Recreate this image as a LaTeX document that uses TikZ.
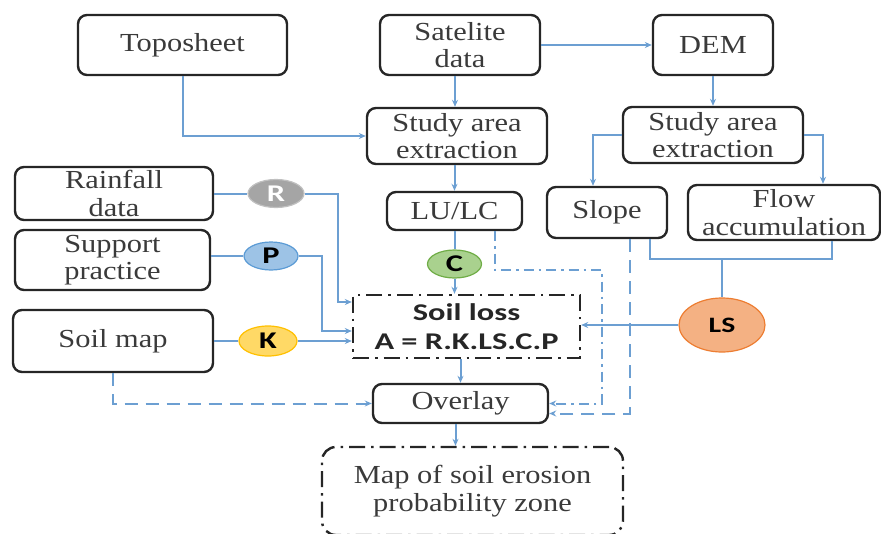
\documentclass[tikz,border=0pt]{standalone}
\usepackage{fontspec}
\setmainfont{Liberation Serif}[FakeStretch=1.17]
\newfontfamily\sfb{Carlito}[FakeStretch=1.35]
\usetikzlibrary{arrows.meta,shapes.geometric}
\definecolor{ln}{HTML}{6C9FD2}
\definecolor{tx}{HTML}{3A3A3A}
\definecolor{rfill}{HTML}{A5A5A5}
\definecolor{pfill}{HTML}{9DC3E6}
\definecolor{pdraw}{HTML}{5B9BD5}
\definecolor{kfill}{HTML}{FFD966}
\definecolor{kdraw}{HTML}{FFC000}
\definecolor{cfill}{HTML}{A9D18E}
\definecolor{cdraw}{HTML}{70AD47}
\definecolor{lsfill}{HTML}{F4B183}
\definecolor{lsdraw}{HTML}{ED7D31}
\begin{document}
\begin{tikzpicture}[x=1pt,y=-1pt,
  box/.style={draw=black!85, line width=2.4pt, rounded corners=9pt, align=center,
    text=tx, font=\fontsize{26}{27.5}\selectfont, inner sep=0pt},
  dbox/.style={box, dash pattern=on 16pt off 6pt on 2.5pt off 6pt},
  conn/.style={draw=ln, line width=2pt},
  arr/.style={conn, -{Stealth[length=7pt,width=6pt]}},
  dsh/.style={dash pattern=on 13pt off 8pt},
  dshdot/.style={dash pattern=on 10pt off 5pt on 2.5pt off 5pt},
  fac/.style={ellipse, inner sep=0pt, line width=1.2pt, font=\sfb\bfseries\fontsize{24}{26}\selectfont}
]
\useasboundingbox (0,0) rectangle (881,533);

% boxes
\node[box, minimum width=209pt, minimum height=60pt] (topo) at (182.5,45) {Toposheet};
\node[box, minimum width=160pt, minimum height=60pt] (sat) at (460,45) {Satelite\\data};
\node[box, minimum width=120pt, minimum height=60pt] (dem) at (713,45) {DEM};
\node[box, minimum width=180pt, minimum height=56pt] (sa1) at (457,136) {Study area\\extraction};
\node[box, minimum width=180pt, minimum height=56pt] (sa2) at (713,135) {Study area\\extraction};
\node[box, minimum width=198pt, minimum height=53pt] (rain) at (114,193.5) {Rainfall\\data};
\node[box, minimum width=135pt, minimum height=38pt] (lulc) at (454.5,211) {LU/LC};
\node[box, minimum width=120pt, minimum height=51pt] (slope) at (607,212.5) {Slope};
\node[box, minimum width=192pt, minimum height=55pt] (flow) at (784,212.5) {Flow\\accumulation};
\node[box, minimum width=195pt, minimum height=60pt] (supp) at (112.5,260) {Support\\practice};
\node[box, minimum width=200pt, minimum height=62pt] (soil) at (113,341) {Soil map};
\node[dbox, rounded corners=0pt, minimum width=227pt, minimum height=63pt,
      font=\sfb\bfseries\fontsize{24}{29}\selectfont, text=black!85] (sl) at (466.5,326.5) {Soil loss\\A = R.K.LS.C.P};
\node[box, minimum width=175pt, minimum height=39pt] (ov) at (460.5,403.5) {Overlay};
\node[dbox, rounded corners=14pt, minimum width=301pt, minimum height=88pt] (map) at (472.5,491) {Map of soil erosion\\probability zone};

% factor ellipses
\node[fac, fill=rfill, draw=rfill!70, text=white, minimum width=56pt, minimum height=28pt] (R) at (276,193.5) {R};
\node[fac, fill=pfill, draw=pdraw, text=black, minimum width=54pt, minimum height=28pt] (P) at (271,256) {P};
\node[fac, fill=kfill, draw=kdraw, text=black, minimum width=58pt, minimum height=30pt] (K) at (268,341) {K};
\node[fac, fill=cfill, draw=cdraw, text=black, minimum width=54pt, minimum height=28pt] (C) at (454.5,264) {C};
\node[fac, fill=lsfill, draw=lsdraw, text=black, minimum width=86pt, minimum height=54pt,
      font=\sfb\bfseries\fontsize{22}{24}\selectfont] (LS) at (722,325) {LS};

% bend coordinates
\coordinate (rb) at (338,302);
\coordinate (pb) at (322,331);
\coordinate (j) at (722,259);
\coordinate (d1) at (602,270);

% connectors
\draw[arr] (topo.south) |- (sa1.west);
\draw[arr] ([xshift=-5pt]sat.south) -- ([xshift=-5pt]sat.south |- sa1.north);
\draw[arr] (sat.east) -- (dem.west);
\draw[arr] (dem.south) -- (sa2.north);
\draw[arr] (sa2.west) -| ([xshift=-14pt]slope.north);
\draw[arr] (sa2.east) -| ([xshift=39pt]flow.north);
\draw[arr] (lulc.north |- sa1.south) -- (lulc.north);
\draw[conn] (lulc.south) -- (C.north);
\draw[arr] (C.south) -- (C.south |- sl.north);
\draw[conn] (rain.east) -- (R.west);
\draw[arr] (R.east) -| (rb) -- (rb -| sl.west);
\draw[conn] (P.west -| supp.east) -- (P.west);
\draw[arr] (P.east) -| (pb) -- (pb -| sl.west);
\draw[conn] (K.west -| soil.east) -- (K.west);
\draw[arr] (K.east) -- (K.east -| sl.west);
\draw[arr] (ov.north |- sl.south) -- (ov.north);
\draw[arr] ([xshift=-5pt]ov.south) -- ([xshift=-5pt]ov.south |- map.north);
\draw[conn] ([xshift=43pt]slope.south) |- (j) -| ([xshift=48pt]flow.south);
\draw[conn] (j) -- (LS.north);
\draw[arr] (LS.west) -- (LS.west -| sl.east);
\draw[arr, dsh] (soil.south) |- (ov.west);
\draw[arr, dshdot] ([xshift=40.5pt]lulc.south) |- (d1) |- (ov.east);
\draw[arr, dsh] ([xshift=23pt]slope.south) |- ([yshift=-10pt]ov.east);
\end{tikzpicture}
\end{document}
